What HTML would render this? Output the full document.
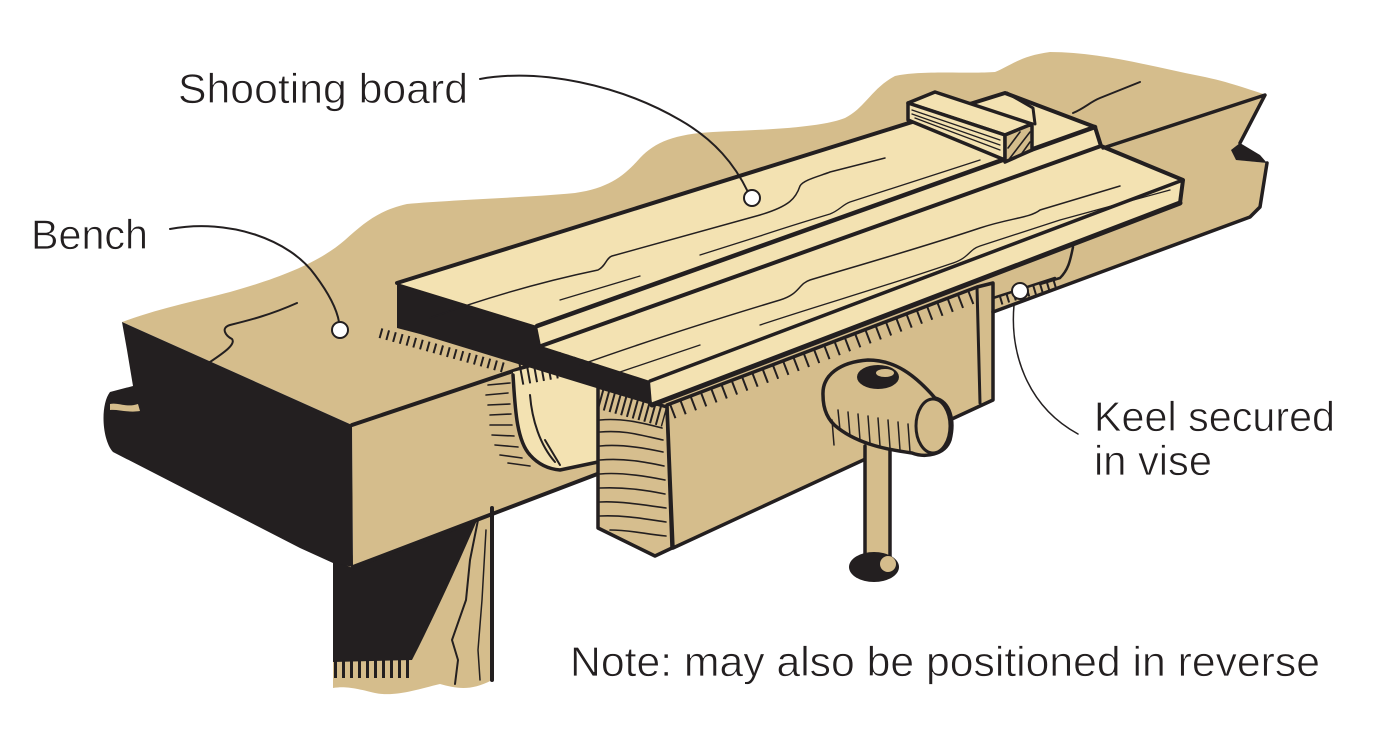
<!DOCTYPE html>
<html><head><meta charset="utf-8"><style>
html,body{margin:0;padding:0;background:#fff;width:1400px;height:738px;overflow:hidden}
svg{display:block}
text{font-family:"Liberation Sans",sans-serif;fill:#231f20;font-size:42px;stroke:#fff;stroke-width:0.7px}
</style></head><body>
<svg width="1400" height="738" viewBox="0 0 1400 738" xmlns="http://www.w3.org/2000/svg">
<g stroke-linejoin="round" stroke-linecap="round">
<!-- big tan bench top + vignette -->
<path d="M122,322 C160,308 200,300 230,292 C280,278 320,262 345,240 C365,222 380,210 407,204 C450,200 520,198 575,193 C610,188 625,175 640,158 C655,142 675,134 713,132 C760,130 820,128 845,118 C865,108 872,88 895,76 C920,70 970,74 995,72 C1010,66 1020,56 1050,52 C1100,52 1150,66 1200,76 C1230,82 1250,90 1267,95 L1240,143 L1233,150 L1238,160 L1267,163 L1260,207 L1250,217 L993,312 L600,473 L353,567 L352,425 Z" fill="#d5bd8c"/>
<!-- leg -->
<path d="M333,562 L492,508 L492,680 C470,692 455,688 440,684 C415,690 395,697 375,693 C355,688 345,686 333,688 Z" fill="#d5bd8c"/>
<path d="M333,560 L353,568 L478,518 C460,560 435,615 412,660 L333,662 Z" fill="#231f20"/>
<line x1="334" y1="656" x2="412" y2="656" stroke="#231f20" stroke-width="44" stroke-dasharray="3 5" stroke-linecap="butt"/>
<path d="M492,508 L492,680" stroke="#231f20" stroke-width="4" fill="none"/>
<path d="M478,520 L470,560 L466,600 L452,640 L458,660 L455,684" stroke="#231f20" stroke-width="2" fill="none"/>
<path d="M486,530 L482,600 L478,650 L480,680" stroke="#231f20" stroke-width="1.5" fill="none"/>
<!-- black end face -->
<path d="M122,322 L352,425 L353,567 L333,563 L300,548 L113,452 C102,440 100,405 110,392 L133,386 L127,350 Z" fill="#231f20"/>
<path d="M110,404 C118,402 126,408 138,404 L140,411 C128,413 118,409 110,410 Z" fill="#d5bd8c"/>
<!-- bench front-left face outlines -->
<path d="M352,425 L540,362" stroke="#231f20" stroke-width="4" fill="none"/>
<path d="M353,567 L600,473" stroke="#231f20" stroke-width="4" fill="none"/>
<!-- bench top grain -->
<path d="M297,303 C270,315 250,320 230,325 C220,328 226,336 232,339 C236,344 225,352 210,362" stroke="#231f20" stroke-width="2" fill="none"/>
<path d="M1140,82 L1100,98 C1090,102 1085,108 1073,113" stroke="#231f20" stroke-width="2" fill="none"/>
<!-- hatch on bench top near board -->
<line x1="380" y1="333" x2="505" y2="368" stroke="#231f20" stroke-width="10" stroke-dasharray="2 5" stroke-linecap="butt"/>
<!-- recess -->
<path d="M513,372 L598,350 L598,462 L560,470 C540,470 522,452 517,420 Z" fill="#f3e2b2"/>
<path d="M513,375 C515,405 516,440 530,455 C538,464 548,469 560,470 L598,462" stroke="#231f20" stroke-width="3.5" fill="none"/>
<path d="M530,395 C532,420 540,445 555,462 M545,440 L560,465" stroke="#231f20" stroke-width="2" fill="none"/>
<line x1="520" y1="372" x2="598" y2="358" stroke="#231f20" stroke-width="26" stroke-dasharray="2 5" stroke-linecap="butt"/>
<path d="M488,385 L510,383 M486,395 L508,393 M488,405 L510,404 M490,415 L511,414 M490,425 L512,425 M492,435 L514,436 M495,445 L518,447 M500,455 L522,458 M508,463 L530,466" stroke="#231f20" stroke-width="1.6" fill="none"/>
<!-- keel area right of chop -->
<path d="M993,298 L1055,278 M1073,247 C1070,262 1068,270 1060,278 L1040,284" stroke="#231f20" stroke-width="2.5" fill="none"/>
<line x1="1000" y1="300" x2="1060" y2="282" stroke="#231f20" stroke-width="10" stroke-dasharray="2 5" stroke-linecap="butt"/>
<!-- jaw block -->
<path d="M598,387 L667,407 L672,548 L655,556 L598,528 Z" fill="#d6be8e" stroke="#231f20" stroke-width="3.5"/>
<path d="M600,420 C620,418 640,422 662,428 M600,432 C625,430 640,435 663,440 M600,446 C620,444 645,448 663,452 M600,460 C625,458 645,462 664,466 M600,474 C620,472 645,476 665,480 M600,488 C625,487 645,490 665,494 M600,502 C620,501 645,505 666,508 M600,516 C625,515 645,519 666,522 M610,530 C630,530 645,534 666,536" stroke="#231f20" stroke-width="1.6" fill="none"/>
<line x1="600" y1="398" x2="665" y2="416" stroke="#231f20" stroke-width="22" stroke-dasharray="2 4" stroke-linecap="butt"/>
<!-- chop -->
<path d="M667,405 L977,287 L993,283 L993,400 L673,548 Z" fill="#d5bd8c" stroke="#231f20" stroke-width="3.5"/>
<path d="M977,287 L980,403" stroke="#231f20" stroke-width="3" fill="none"/>
<line x1="672" y1="412" x2="972" y2="297" stroke="#231f20" stroke-width="14" stroke-dasharray="2 9" stroke-linecap="butt"/>
<!-- board: platform, strips, runway -->
<path d="M397,283 L1005,93 L1095,127 L537,326 Z" fill="#f3e2b2"/>
<path d="M537,326 L1095,127 L1101,146 L541,346 Z" fill="#f3e2b2"/>
<path d="M541,346 L1101,146 L1183,180 L650,381 Z" fill="#f3e2b2"/>
<path d="M650,381 L1183,180 L1180,203 L652,405 Z" fill="#f3e2b2"/>
<path d="M397,283 L537,326 L541,346 L650,381 L652,405 L420,334 L397,328 Z" fill="#231f20"/>
<path d="M397,283 L1005,93 L1095,127 L1101,146 L1183,180 L1180,203" stroke="#231f20" stroke-width="4" fill="none"/>
<path d="M537,326 L1095,127" stroke="#231f20" stroke-width="4.5" fill="none"/>
<path d="M541,346 L1101,146" stroke="#231f20" stroke-width="4" fill="none"/>
<path d="M650,381 L1183,180" stroke="#231f20" stroke-width="3.5" fill="none"/>
<path d="M652,405 L1180,203" stroke="#231f20" stroke-width="5" fill="none"/>
<path d="M1103,148 L1265,95 L1240,143" stroke="#231f20" stroke-width="3.5" fill="none"/>
<path d="M1240,143 L1231,150 L1236,160 L1267,163 L1260,155 Z" fill="#231f20"/>
<path d="M1267,163 L1260,207 L1250,217 L993,312" stroke="#231f20" stroke-width="3.5" fill="none"/>
<!-- board grain -->
<path d="M430,318 C480,300 540,282 598,270 C606,266 606,258 612,256 C640,248 700,232 760,215 C790,206 796,198 800,186 C803,180 820,176 830,172 L885,158" stroke="#231f20" stroke-width="1.5" fill="none"/>
<path d="M560,300 L640,276 M700,255 L760,236 C790,226 810,220 830,214 C840,210 842,205 850,202 L980,160" stroke="#231f20" stroke-width="1.3" fill="none"/>
<path d="M580,365 C650,340 720,318 780,300 C800,294 798,284 810,280 C860,265 920,248 980,228 C1010,218 1030,218 1040,210 L1120,186" stroke="#231f20" stroke-width="1.5" fill="none"/>
<path d="M620,372 L700,345 M760,325 C820,305 880,288 950,264 C970,258 968,250 980,246 L1060,220 L1170,190" stroke="#231f20" stroke-width="1.3" fill="none"/>
<!-- fence edge behind bar -->
<path d="M1007,93 L1033,108 L1035,124" stroke="#231f20" stroke-width="3" fill="none"/>
<!-- stop bar -->
<path d="M908,103 L935,92 L1032,124 L1005,135 Z" fill="#f3e2b2" stroke="#231f20" stroke-width="3.5"/>
<path d="M908,103 L1005,135 L1005,160 L908,120 Z" fill="#f3e2b2" stroke="#231f20" stroke-width="3.5"/>
<path d="M912,110 L1000,140 M912,114 L1000,145 M915,118 L1000,150" stroke="#231f20" stroke-width="1.3" fill="none"/>
<path d="M1005,135 L1032,124 L1032,150 L1005,162 Z" fill="#d5bd8c" stroke="#231f20" stroke-width="3.5"/>
<path d="M1008,148 L1020,132 M1010,158 L1030,132 M1020,156 L1030,142" stroke="#231f20" stroke-width="1.6" fill="none"/>
<!-- handle rod -->
<rect x="864" y="446" width="26" height="114" fill="#d5bd8c"/>
<path d="M865,446 L865,560 M890,446 L890,560" stroke="#231f20" stroke-width="3.5" fill="none"/>
<ellipse cx="874" cy="567" rx="25" ry="15" fill="#231f20"/>
<ellipse cx="888" cy="564" rx="8" ry="8" fill="#d5bd8c"/>
<!-- hub -->
<path d="M823,395 C822,375 840,362 868,360 C895,360 915,375 935,398 C950,402 955,420 950,440 C945,455 925,458 912,453 C890,450 860,445 838,428 C827,420 823,408 823,395 Z" fill="#d5bd8c" stroke="#231f20" stroke-width="3.5"/>
<ellipse cx="933" cy="426" rx="17" ry="27" fill="none" stroke="#231f20" stroke-width="3"/>
<path d="M838,410 L840,430 M848,412 L850,436 M858,414 L860,440 M868,416 L870,443 M878,418 L880,446 M888,420 L890,448 M898,422 L900,450 M908,424 L910,452 M832,420 L834,445" stroke="#231f20" stroke-width="1.5" fill="none"/>
<ellipse cx="878" cy="377" rx="21" ry="12" fill="#231f20"/>
<ellipse cx="885" cy="373" rx="9" ry="4" fill="#d5bd8c"/>
<!-- leaders -->
<path d="M480,79 C540,68 620,85 680,120 C715,140 735,165 748,192" stroke="#231f20" stroke-width="2" fill="none"/>
<path d="M170,229 C230,218 290,240 315,275 C330,295 337,310 339,322" stroke="#231f20" stroke-width="2" fill="none"/>
<path d="M1014,305 C1010,350 1025,405 1078,434" stroke="#231f20" stroke-width="1.5" fill="none"/>
<circle cx="752" cy="198" r="8" fill="#fff" stroke="#231f20" stroke-width="2"/>
<circle cx="340" cy="330" r="8" fill="#fff" stroke="#231f20" stroke-width="2"/>
<circle cx="1020" cy="291" r="8" fill="#fff" stroke="#231f20" stroke-width="2"/>
</g>
<text x="178" y="103" textLength="290" lengthAdjust="spacingAndGlyphs">Shooting board</text>
<text x="31" y="249" textLength="117" lengthAdjust="spacingAndGlyphs">Bench</text>
<text x="1094" y="431" textLength="241" lengthAdjust="spacingAndGlyphs">Keel secured</text>
<text x="1094" y="475" textLength="118" lengthAdjust="spacingAndGlyphs">in vise</text>
<text x="570" y="676" textLength="750" lengthAdjust="spacingAndGlyphs">Note: may also be positioned in reverse</text>
</svg>
</body></html>
